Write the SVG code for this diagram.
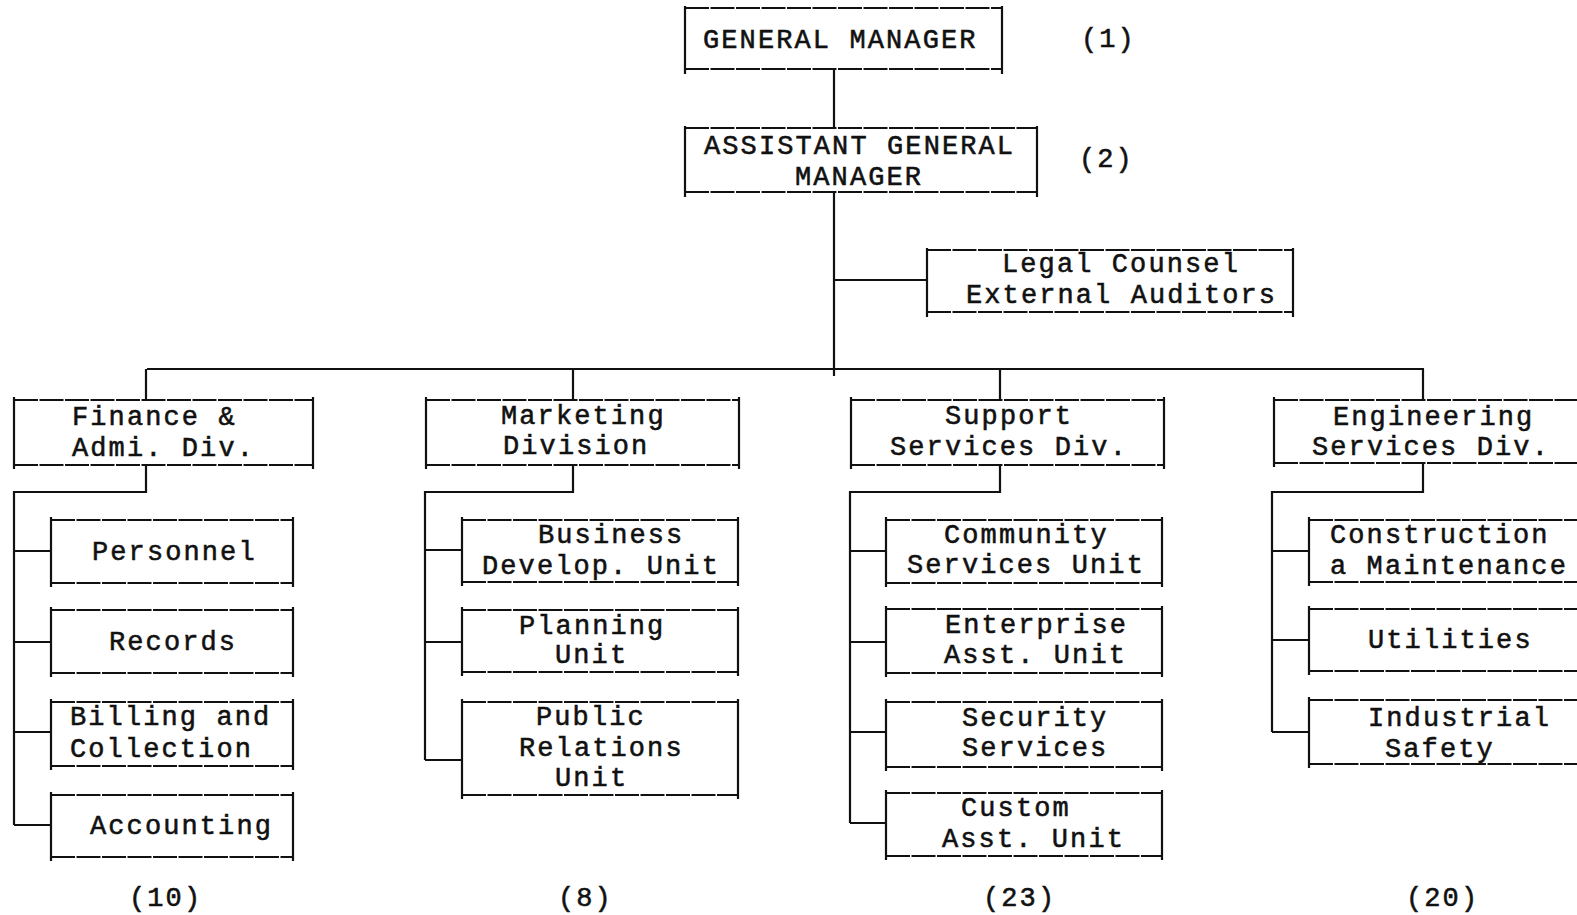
<svg xmlns="http://www.w3.org/2000/svg" width="1577" height="915" viewBox="0 0 1577 915">
  <style>
    .bg { fill: #ffffff; }
    .h { fill: none; stroke: #111; stroke-width: 2.2; stroke-dasharray: 24 1.5; }
    .v { fill: none; stroke: #111; stroke-width: 2.2; }
    .c { fill: none; stroke: #111; stroke-width: 2.2; }
    text { font-family: "Liberation Mono", "DejaVu Sans Mono", monospace; font-size: 27px; letter-spacing: 2.1px; fill: #111; stroke: #111; stroke-width: 0.55; }
  </style>
  <rect class="bg" x="0" y="0" width="1577" height="915"/>

  <!-- connectors -->
  <g id="connectors">
    <path class="c" d="M834 69 V128 M834 192 V376 M834 280 H927 M147 369 H1424"/>
    <path class="c" d="M146 369 V400 M573 369 V400 M1000 369 V400 M1423 369 V400"/>
    <!-- finance branch -->
    <path class="c" d="M146 465 V492 H14 V825 M14 551 H51 M14 642 H51 M14 732 H51 M14 825 H51"/>
    <!-- marketing branch -->
    <path class="c" d="M573 465 V492 H425 V760 M425 550 H462 M425 642 H462 M425 760 H462"/>
    <!-- support branch -->
    <path class="c" d="M1000 465 V492 H850 V823 M850 551 H886 M850 642 H886 M850 732 H886 M850 823 H886"/>
    <!-- engineering branch -->
    <path class="c" d="M1423 463 V492 H1272 V732 M1272 551 H1309 M1272 640 H1309 M1272 732 H1309"/>
  </g>

  <!-- top management -->
  <g id="gm">
    <path class="h" d="M685 8 H1002 M685 69 H1002"/>
    <path class="v" d="M685 6 V74 M1002 6 V74"/>
    <text x="703" y="48">GENERAL MANAGER</text>
    <text x="1081" y="47">(1)</text>
  </g>
  <g id="agm">
    <path class="h" d="M685 128 H1037 M685 192 H1037"/>
    <path class="v" d="M685 126 V197 M1037 126 V197"/>
    <text x="704" y="154">ASSISTANT GENERAL</text>
    <text x="795" y="185">MANAGER</text>
    <text x="1079" y="167">(2)</text>
  </g>
  <g id="legal">
    <path class="h" d="M927 250 H1293 M927 312 H1293"/>
    <path class="v" d="M927 248 V317 M1293 248 V317"/>
    <text x="1002" y="272">Legal Counsel</text>
    <text x="966" y="303">External Auditors</text>
  </g>

  <!-- divisions -->
  <g id="finance">
    <path class="h" d="M14 400 H313 M14 465 H313"/>
    <path class="v" d="M14 397 V469 M313 397 V469"/>
    <text x="72" y="425">Finance &amp;</text>
    <text x="72" y="456">Admi. Div.</text>
  </g>
  <g id="marketing">
    <path class="h" d="M426 400 H739 M426 465 H739"/>
    <path class="v" d="M426 397 V469 M739 397 V469"/>
    <text x="501" y="424">Marketing</text>
    <text x="503" y="454">Division</text>
  </g>
  <g id="support">
    <path class="h" d="M851 400 H1164 M851 465 H1164"/>
    <path class="v" d="M851 397 V469 M1164 397 V469"/>
    <text x="945" y="424">Support</text>
    <text x="890" y="455">Services Div.</text>
  </g>
  <g id="engineering">
    <path class="h" d="M1274 400 H1600 M1274 463 H1600"/>
    <path class="v" d="M1274 397 V467"/>
    <text x="1333" y="425">Engineering</text>
    <text x="1312" y="455">Services Div.</text>
  </g>

  <!-- finance units -->
  <g id="personnel">
    <path class="h" d="M51 520 H293 M51 583 H293"/>
    <path class="v" d="M51 517 V587 M293 517 V587"/>
    <text x="92" y="560">Personnel</text>
  </g>
  <g id="records">
    <path class="h" d="M51 610 H293 M51 673 H293"/>
    <path class="v" d="M51 607 V677 M293 607 V677"/>
    <text x="109" y="650">Records</text>
  </g>
  <g id="billing">
    <path class="h" d="M51 702 H293 M51 766 H293"/>
    <path class="v" d="M51 699 V770 M293 699 V770"/>
    <text x="70" y="725">Billing and</text>
    <text x="70" y="757">Collection</text>
  </g>
  <g id="accounting">
    <path class="h" d="M51 795 H293 M51 857 H293"/>
    <path class="v" d="M51 792 V861 M293 792 V861"/>
    <text x="90" y="834">Accounting</text>
  </g>
  <text x="129" y="906">(10)</text>

  <!-- marketing units -->
  <g id="business">
    <path class="h" d="M462 520 H738 M462 582 H738"/>
    <path class="v" d="M462 517 V586 M738 517 V586"/>
    <text x="538" y="543">Business</text>
    <text x="482" y="574">Develop. Unit</text>
  </g>
  <g id="planning">
    <path class="h" d="M462 610 H738 M462 672 H738"/>
    <path class="v" d="M462 607 V676 M738 607 V676"/>
    <text x="519" y="634">Planning</text>
    <text x="555" y="663">Unit</text>
  </g>
  <g id="public-relations">
    <path class="h" d="M462 702 H738 M462 795 H738"/>
    <path class="v" d="M462 699 V799 M738 699 V799"/>
    <text x="536" y="725">Public</text>
    <text x="519" y="756">Relations</text>
    <text x="555" y="786">Unit</text>
  </g>
  <text x="558" y="906">(8)</text>

  <!-- support units -->
  <g id="community">
    <path class="h" d="M886 520 H1162 M886 583 H1162"/>
    <path class="v" d="M886 517 V587 M1162 517 V587"/>
    <text x="944" y="543">Community</text>
    <text x="907" y="573">Services Unit</text>
  </g>
  <g id="enterprise">
    <path class="h" d="M886 609 H1162 M886 673 H1162"/>
    <path class="v" d="M886 606 V677 M1162 606 V677"/>
    <text x="945" y="633">Enterprise</text>
    <text x="944" y="663">Asst. Unit</text>
  </g>
  <g id="security">
    <path class="h" d="M886 702 H1162 M886 767 H1162"/>
    <path class="v" d="M886 699 V771 M1162 699 V771"/>
    <text x="962" y="726">Security</text>
    <text x="962" y="756">Services</text>
  </g>
  <g id="custom">
    <path class="h" d="M886 793 H1162 M886 856 H1162"/>
    <path class="v" d="M886 790 V860 M1162 790 V860"/>
    <text x="961" y="816">Custom</text>
    <text x="942" y="847">Asst. Unit</text>
  </g>
  <text x="983" y="906">(23)</text>

  <!-- engineering units -->
  <g id="construction">
    <path class="h" d="M1309 520 H1600 M1309 582 H1600"/>
    <path class="v" d="M1309 517 V586"/>
    <text x="1330" y="543">Construction</text>
    <text x="1330" y="574">a Maintenance</text>
  </g>
  <g id="utilities">
    <path class="h" d="M1309 609 H1600 M1309 671 H1600"/>
    <path class="v" d="M1309 606 V675"/>
    <text x="1368" y="648">Utilities</text>
  </g>
  <g id="industrial-safety">
    <path class="h" d="M1309 700 H1600 M1309 764 H1600"/>
    <path class="v" d="M1309 697 V768"/>
    <text x="1368" y="726">Industrial</text>
    <text x="1385" y="757">Safety</text>
  </g>
  <text x="1406" y="906">(20)</text>
</svg>
